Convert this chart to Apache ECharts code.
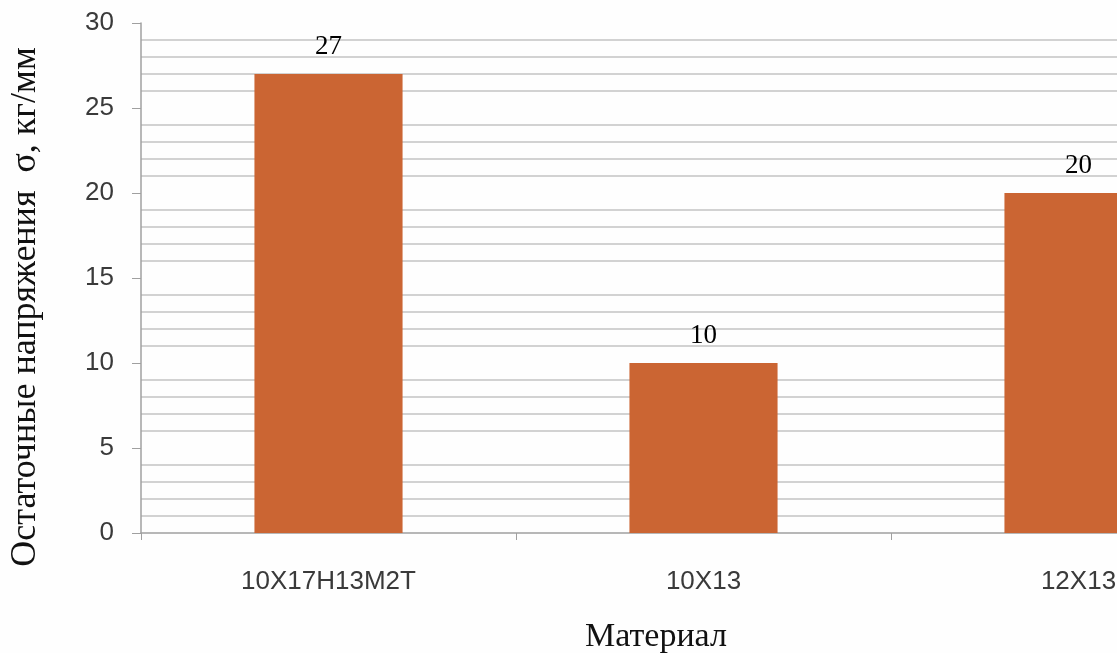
<!DOCTYPE html>
<html>
<head>
<meta charset="utf-8">
<title>Остаточные напряжения</title>
<script src="https://cdn.jsdelivr.net/npm/echarts@6/dist/echarts.min.js"></script>
<style>
  html, body { margin: 0; padding: 0; background: #fefefe; overflow: hidden; }
  /* the drawing is wider than the page: the last column runs off the right edge */
  #chart { width: 1266px; height: 653px; }
</style>
</head>
<body>
<div id="chart"></div>
<script>
// Materials and their residual stress values
const materials = ['10Х17Н13М2Т', '10Х13', '12Х13'];
const stress = [27, 10, 20];
const yTicks = { min: 0, max: 30, interval: 5 };

const xTitle = 'Материал';
const yTitle = 'Остаточные напряжения  σ, кг/мм';

const chart = echarts.init(document.getElementById('chart'), null, { renderer: 'canvas' });

const axisGray = '#a0a0a0';

chart.setOption({
  backgroundColor: '#fefefe',
  animation: false,
  grid: { left: 141, right: 0, top: 23, bottom: 120, containLabel: false, outerBoundsMode: 'none' },
  xAxis: {
    type: 'category',
    data: materials,
    boundaryGap: true,
    axisLine: { show: true, lineStyle: { color: axisGray, width: 1.5 } },
    axisTick: { show: true, inside: false, length: 7, alignWithLabel: false, lineStyle: { color: axisGray } },
    axisLabel: {
      margin: 36,
      color: '#3a3a3a',
      fontFamily: 'Liberation Sans',
      fontSize: 26
    },
    splitLine: { show: false }
  },
  yAxis: {
    type: 'value',
    min: yTicks.min,
    max: yTicks.max,
    interval: yTicks.interval,
    axisLine: { show: true, lineStyle: { color: axisGray, width: 1.5 } },
    axisTick: { show: true, length: 9, lineStyle: { color: axisGray } },
    axisLabel: {
      margin: 27,
      color: '#3a3a3a',
      fontFamily: 'Liberation Sans',
      fontSize: 26
    },
    splitLine: { show: false },
    minorTick: { show: false, splitNumber: 5 },
    minorSplitLine: { show: true, lineStyle: { color: '#c4c4c4', width: 1.5 } }
  },
  series: [{
    type: 'bar',
    data: stress,
    barWidth: '39.5%',
    itemStyle: { color: '#CB6533' },
    label: {
      show: true,
      position: 'top',
      distance: 14,
      color: '#000',
      fontFamily: 'Liberation Serif',
      fontSize: 27
    }
  }],
  graphic: [
    {
      type: 'text',
      x: 656,
      y: 637,
      style: {
        text: xTitle,
        fill: '#111',
        font: '34px "Liberation Serif"',
        textAlign: 'center',
        textVerticalAlign: 'middle'
      }
    },
    {
      type: 'text',
      x: 26,
      y: 307,
      rotation: Math.PI / 2,
      style: {
        text: yTitle,
        fill: '#111',
        font: '36px "Liberation Serif"',
        textAlign: 'center',
        textVerticalAlign: 'middle'
      }
    }
  ]
});
</script>
</body>
</html>
